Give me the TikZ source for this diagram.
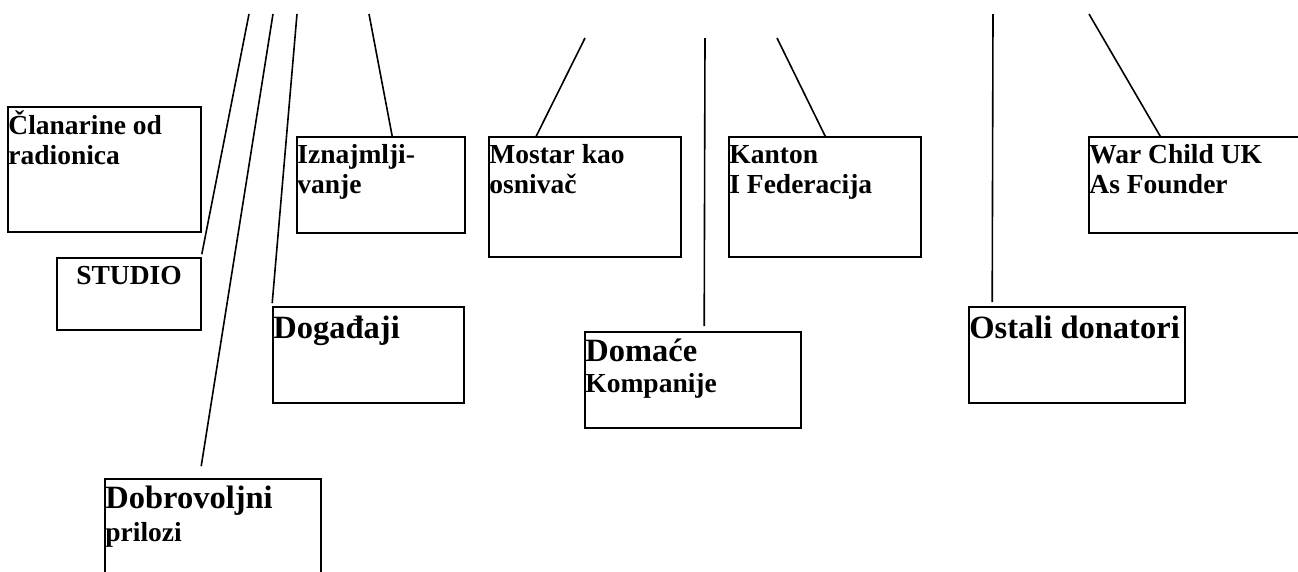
\documentclass[tikz,border=0pt]{standalone}
\usepackage{fontspec}
\setmainfont{Liberation Serif}
\usepackage{tikz}

\tikzset{
  box/.style={draw=black,line width=1.6pt,inner sep=0pt},
  small/.style={draw=none,fill=none,inner sep=0pt,anchor=base west,font=\bfseries\fontsize{27.5}{30}\selectfont},
  big/.style={draw=none,fill=none,inner sep=0pt,anchor=base west,font=\bfseries\fontsize{32.5}{36}\selectfont},
  conn/.style={line width=1.6pt}
}

\begin{document}
\begin{tikzpicture}[x=1pt,y=1pt]
\useasboundingbox (0,0) rectangle (1298,-571);
\clip (0,0) rectangle (1298,-571);

%start with the boxes, left group
\node[box,minimum width=193,minimum height=125] (clan) at (104.5,-169.5) {};
\node[box,minimum width=144,minimum height=72] (studio) at (129,-294) {};
\node[box,minimum width=168,minimum height=96] (iznaj) at (381,-185) {};
\node[box,minimum width=191,minimum height=96] (dogad) at (368.5,-355) {};
\node[box,minimum width=216,minimum height=120] (dobro) at (213,-539) {};
%middle group
\node[box,minimum width=192,minimum height=120] (mostar) at (585,-197) {};
\node[box,minimum width=216,minimum height=96] (domace) at (693,-380) {};
\node[box,minimum width=192,minimum height=120] (kanton) at (825,-197) {};
%right group
\node[box,minimum width=216,minimum height=96] (ostali) at (1077,-355) {};
\node[box,minimum width=216,minimum height=96] (warchild) at (1197,-185) {};

%label the boxes
\node[small] (clantext1) at ([xshift=1pt,yshift=-28pt]clan.north west) {Članarine od};
\node[small] (clantext2) at ([yshift=-30pt]clantext1.base west) {radionica};
\node[small,anchor=base] (studiotext) at ([yshift=-27pt]studio.north) {STUDIO};
\node[small] (iznajtext1) at ([xshift=1pt,yshift=-27pt]iznaj.north west) {Iznajmlji-};
\node[small] (iznajtext2) at ([yshift=-30pt]iznajtext1.base west) {vanje};
\node[big] (dogadtext) at ([xshift=1pt,yshift=-32pt]dogad.north west) {Događaji};
\node[big] (dobrotext1) at ([xshift=1pt,yshift=-30pt]dobro.north west) {Dobrovoljni};
\node[small] (dobrotext2) at ([yshift=-33pt]dobrotext1.base west) {prilozi};
\node[small] (mostartext1) at ([xshift=1pt,yshift=-27pt]mostar.north west) {Mostar kao};
\node[small] (mostartext2) at ([yshift=-30pt]mostartext1.base west) {osnivač};
\node[big] (domacetext1) at ([xshift=1pt,yshift=-30pt]domace.north west) {Domaće};
\node[small] (domacetext2) at ([yshift=-31pt]domacetext1.base west) {Kompanije};
\node[small] (kantontext1) at ([xshift=1pt,yshift=-27pt]kanton.north west) {Kanton};
\node[small] (kantontext2) at ([yshift=-30pt]kantontext1.base west) {I Federacija};
\node[big] (ostalitext) at ([xshift=1pt,yshift=-32pt]ostali.north west) {Ostali donatori};
\node[small] (wartext1) at ([xshift=1pt,yshift=-27pt]warchild.north west) {War Child UK};
\node[small] (wartext2) at ([yshift=-30pt]wartext1.base west) {As Founder};

%free ends at the top
\coordinate (top1) at (249,-14);
\coordinate (top2) at (273,-14);
\coordinate (top3) at (297,-14);
\coordinate (top4) at (369,-14);
\coordinate (top5) at (585,-38);
\coordinate (top6) at (705,-38);
\coordinate (top7) at (777,-38);
\coordinate (top8) at (993,-14);
\coordinate (top9) at (1089,-14);

%connectors
\draw[conn] (top1) -- ([yshift=3pt]studio.north east);
\draw[conn] (top2) -- ([xshift=97pt,yshift=12pt]dobro.north west);
\draw[conn] (top3) -- ([yshift=3pt]dogad.north west);
\draw[conn] (top4) -- ([xshift=96pt]iznaj.north west);
\draw[conn] (top5) -- ([xshift=48pt]mostar.north west);
\draw[conn] (top6) -- ([xshift=120pt,yshift=5pt]domace.north west);
\draw[conn] (top7) -- ([xshift=97pt]kanton.north west);
\draw[conn] (top8) -- ([xshift=24pt,yshift=4pt]ostali.north west);
\draw[conn] (top9) -- ([xshift=72pt]warchild.north west);

\end{tikzpicture}
\end{document}
